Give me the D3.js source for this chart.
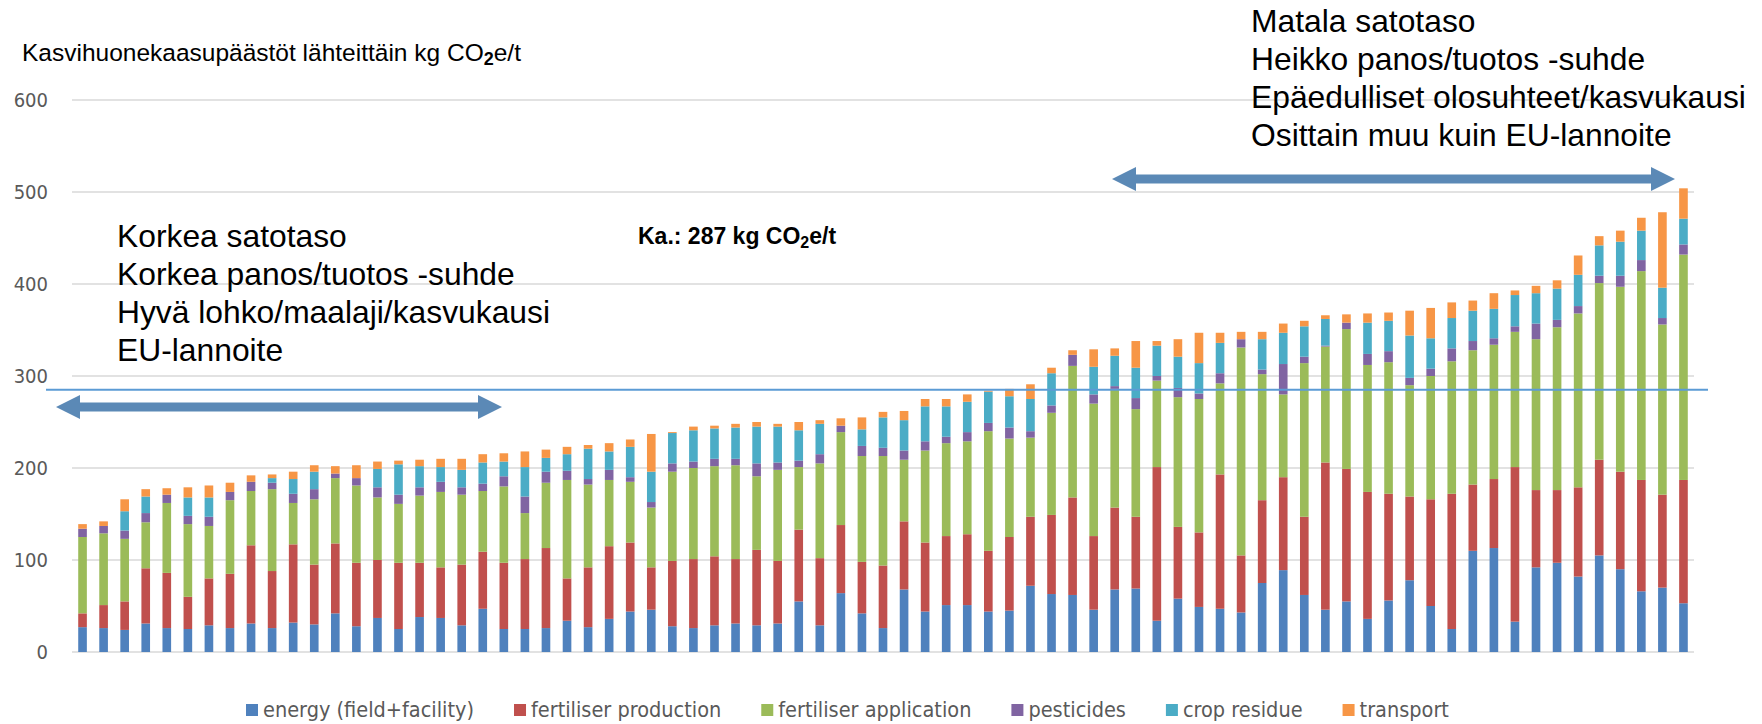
<!doctype html>
<html lang="fi">
<head>
    <meta charset="UTF-8" />
    <title>Kasvihuonekaasupäästöt lähteittäin</title>
    <script src="https://d3js.org/d3.v7.min.js"></script>
    <style>
        body, html {
            margin: 0;
            padding: 0;
            background: #fff;
            overflow: hidden;
        }
        svg {
            display: block;
        }
        .note {
            font-family: "Liberation Sans", Arial, sans-serif;
            fill: #000;
        }
        .tick-label, .legend-label {
            font-family: "Liberation Sans Narrow", "DejaVu Sans Condensed", "Liberation Sans", sans-serif;
            fill: #595959;
        }
    </style>
</head>
<body>
    <svg id="chart"></svg>

    <script>
        // stacked series, one value per field (77 fields, sorted by total)
        const seriesNames = ["energy (field+facility)", "fertiliser production", "fertiliser application",
            "pesticides", "crop residue", "transport"];
        const seriesColors = ["#4f81bd", "#c0504d", "#9bbb59", "#8064a2", "#4bacc6", "#f79646"];

        const energy = [27, 26, 24, 31, 26, 25, 29, 26, 31, 26, 32, 30, 42,
            28, 37, 25, 38, 37, 29, 47, 25, 25, 26, 34, 27, 36,
            44, 46, 28, 26, 29, 31, 29, 31, 55, 29, 64, 42, 26,
            68, 44, 51, 51, 44, 45, 72, 63, 62, 46, 68, 69, 34, 58,
            49, 47, 43, 75, 89, 62, 46, 55, 36, 56, 78, 50, 25,
            110, 113, 33, 92, 97, 82, 105, 90, 66, 70, 53];
        const fertProduction = [15, 25, 31, 60, 60, 35, 51, 59, 85, 62, 85, 65, 76,
            69, 63, 72, 59, 55, 66, 62, 72, 76, 87, 46, 65, 79,
            75, 46, 71, 75, 75, 70, 82, 68, 78, 73, 74, 56, 68,
            74, 75, 75, 77, 66, 80, 75, 86, 106, 80, 89, 78, 167, 78,
            81, 146, 62, 90, 101, 85, 160, 144, 138, 116, 91, 116, 147,
            72, 75, 168, 84, 79, 97, 104, 106, 121, 101, 134];
        const fertApplication = [83, 78, 68, 50, 76, 79, 57, 80, 59, 89, 45, 71, 71,
            84, 68, 64, 73, 82, 76, 66, 83, 50, 71, 107, 90, 72,
            66, 65, 97, 99, 98, 102, 80, 99, 68, 103, 101, 115, 119,
            67, 100, 101, 101, 130, 107, 86, 111, 143, 144, 129, 117, 94, 141,
            145, 99, 226, 137, 90, 167, 126, 152, 138, 143, 121, 134, 144,
            146, 146, 147, 164, 177, 189, 192, 201, 227, 185, 245];
        const pesticides = [9, 8, 9, 10, 9, 9, 10, 9, 10, 7, 10, 11, 5,
            8, 11, 10, 9, 11, 8, 8, 11, 18, 12, 10, 6, 11,
            5, 6, 9, 7, 8, 7, 14, 8, 7, 10, 7, 11, 9,
            10, 10, 7, 10, 9, 12, 7, 8, 12, 10, 3, 12, 5, 10,
            6, 11, 9, 5, 33, 7, 1, 7, 12, 12, 8, 8, 14,
            10, 7, 6, 17, 8, 8, 8, 12, 12, 7, 11];
        const cropResidue = [0, 0, 21, 18, 0, 20, 21, 0, 0, 5, 16, 19, 0,
            0, 20, 33, 23, 16, 19, 23, 16, 32, 15, 18, 33, 20,
            33, 33, 33, 34, 33, 34, 40, 39, 33, 33, 0, 18, 33,
            33, 38, 33, 33, 34, 34, 35, 35, 0, 30, 33, 33, 33, 34,
            33, 33, 0, 33, 34, 33, 29, 0, 34, 33, 46, 33, 33,
            33, 32, 34, 33, 34, 34, 33, 37, 32, 33, 28];
        const transport = [5, 5, 13, 8, 7, 11, 13, 10, 7, 4, 8, 7, 8,
            14, 8, 4, 7, 9, 12, 9, 9, 17, 9, 8, 4, 9,
            8, 41, 1, 4, 3, 4, 5, 3, 9, 4, 8, 13, 6,
            10, 8, 8, 8, 1, 8, 16, 6, 5, 19, 8, 29, 5, 19,
            33, 11, 8, 8, 10, 6, 4, 9, 10, 9, 27, 33, 17,
            11, 17, 5, 8, 9, 21, 10, 12, 14, 82, 33];

        const yTicks = [0, 100, 200, 300, 400, 500, 600];
        const averageValue = 285;

        const leftNotes = ["Korkea satotaso", "Korkea panos/tuotos -suhde", "Hyvä lohko/maalaji/kasvukausi", "EU-lannoite"];
        const rightNotes = ["Matala satotaso", "Heikko panos/tuotos -suhde", "Epäedulliset olosuhteet/kasvukausi", "Osittain muu kuin EU-lannoite"];

        const width = 1762;
        const height = 724;
        const margin = { left: 72, right: 68, top: 100, bottom: 72 };

        const svg = d3.select("#chart").attr("width", width).attr("height", height);

        const seriesArrays = [energy, fertProduction, fertApplication, pesticides, cropResidue, transport];
        const rows = energy.map((d, i) => {
            const row = { id: i };
            seriesNames.forEach((name, s) => { row[name] = seriesArrays[s][i]; });
            return row;
        });
        const stacked = d3.stack().keys(seriesNames)(rows);

        const x = d3.scaleBand()
            .domain(rows.map(d => d.id))
            .range([margin.left, width - margin.right])
            .paddingInner(0.59)
            .paddingOuter(0.295);

        const y = d3.scaleLinear()
            .domain([0, 600])
            .range([height - margin.bottom, margin.top]);

        // gridlines
        svg.append("g")
            .selectAll("line")
            .data(yTicks)
            .join("line")
            .attr("x1", margin.left)
            .attr("x2", width - margin.right)
            .attr("y1", d => y(d))
            .attr("y2", d => y(d))
            .attr("stroke", "#d9d9d9")
            .attr("stroke-width", 1.5);

        // y axis labels
        const yAxis = d3.axisLeft(y).tickValues(yTicks).tickSize(0).tickPadding(24);
        const yg = svg.append("g")
            .attr("transform", `translate(${margin.left},0)`)
            .call(yAxis);
        yg.select(".domain").remove();
        yg.selectAll("text")
            .attr("class", "tick-label")
            .attr("font-size", 20)
            .attr("font-family", null)
            .attr("fill", null);

        // stacked bars
        svg.append("g")
            .selectAll("g")
            .data(stacked)
            .join("g")
            .attr("fill", (d, i) => seriesColors[i])
            .selectAll("rect")
            .data(d => d)
            .join("rect")
            .attr("x", d => x(d.data.id))
            .attr("width", x.bandwidth())
            .attr("y", d => y(d[1]))
            .attr("height", d => y(d[0]) - y(d[1]));

        // average line
        svg.append("line")
            .attr("x1", 46)
            .attr("x2", 1708)
            .attr("y1", y(averageValue))
            .attr("y2", y(averageValue))
            .attr("stroke", "#5b9bd5")
            .attr("stroke-width", 2);

        // title
        const title = svg.append("text")
            .attr("class", "note")
            .attr("x", 22)
            .attr("y", 61)
            .attr("font-size", 24.5);
        title.append("tspan").text("Kasvihuonekaasupäästöt lähteittäin kg CO");
        title.append("tspan").attr("font-size", 18).attr("font-weight", "bold").attr("dy", 4).text("2");
        title.append("tspan").attr("dy", -4).text("e/t");

        const avgLabel = svg.append("text")
            .attr("class", "note")
            .attr("x", 638)
            .attr("y", 244)
            .attr("font-size", 23)
            .attr("font-weight", "bold");
        avgLabel.append("tspan").text("Ka.: 287 kg CO");
        avgLabel.append("tspan").attr("font-size", 16).attr("dy", 4).text("2");
        avgLabel.append("tspan").attr("dy", -4).text("e/t");

        function noteBlock(lines, x0, y0) {
            svg.append("g")
                .selectAll("text")
                .data(lines)
                .join("text")
                .attr("class", "note")
                .attr("x", x0)
                .attr("y", (d, i) => y0 + i * 38)
                .attr("font-size", 31.8)
                .text(d => d);
        }
        noteBlock(leftNotes, 117, 247);
        noteBlock(rightNotes, 1251, 32);

        // double headed arrows
        function doubleArrow(x1, x2, yc) {
            const shaft = 4.5, head = 12, len = 24;
            const pts = [
                [x1, yc], [x1 + len, yc - head], [x1 + len, yc - shaft], [x2 - len, yc - shaft],
                [x2 - len, yc - head], [x2, yc], [x2 - len, yc + head], [x2 - len, yc + shaft],
                [x1 + len, yc + shaft], [x1 + len, yc + head]
            ];
            svg.append("polygon")
                .attr("points", pts.map(p => p.join(",")).join(" "))
                .attr("fill", "#5b89b6");
        }
        doubleArrow(56, 502, 407);
        doubleArrow(1112, 1675, 179);

        // legend
        const legend = svg.append("g").attr("transform", "translate(246,710)");
        let lx = 0;
        seriesNames.forEach((name, i) => {
            const item = legend.append("g").attr("transform", `translate(${lx},0)`);
            item.append("rect")
                .attr("x", 0)
                .attr("y", -6)
                .attr("width", 12)
                .attr("height", 12)
                .attr("fill", seriesColors[i]);
            const t = item.append("text")
                .attr("class", "legend-label")
                .attr("x", 17)
                .attr("y", 7)
                .attr("font-size", 21.5)
                .text(name);
            lx += 17 + t.node().getComputedTextLength() + 40;
        });
    </script>
</body>
</html>
